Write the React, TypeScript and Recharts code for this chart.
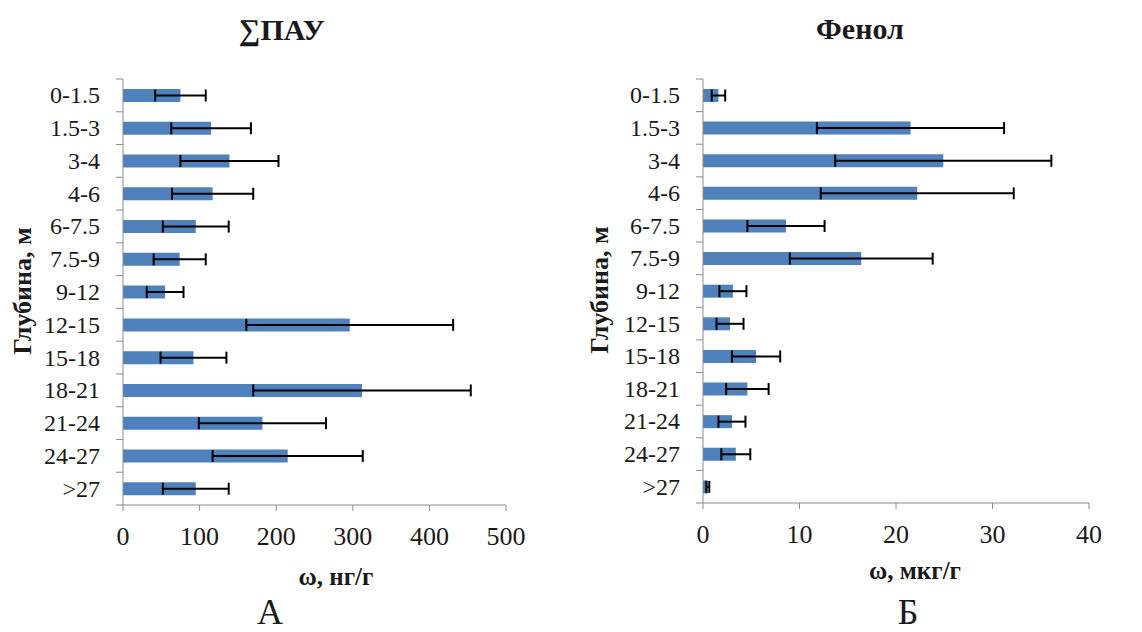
import { BarChart, Bar, XAxis, YAxis, ErrorBar } from 'recharts'

// ---------------------------------------------------------------------------
// Data
// ---------------------------------------------------------------------------
const depths = ['0-1.5', '1.5-3', '3-4', '4-6', '6-7.5', '7.5-9', '9-12', '12-15', '15-18', '18-21', '21-24', '24-27', '>27']

const pahMean = [75, 115, 139, 117, 95, 74, 55, 296, 92, 312, 182, 215, 95]
const pahErr = [33, 52, 64, 53, 43, 34, 24, 135, 43, 142, 83, 98, 43]
const pahTicks = [0, 100, 200, 300, 400, 500]

const phenolMean = [1.6, 21.5, 24.9, 22.2, 8.6, 16.4, 3.1, 2.8, 5.5, 4.6, 3.0, 3.4, 0.5]
const phenolErr = [0.7, 9.7, 11.2, 10.0, 4.0, 7.4, 1.4, 1.4, 2.5, 2.2, 1.4, 1.5, 0.15]
const phenolTicks = [0, 10, 20, 30, 40]

const FONT = '"Liberation Serif", "Times New Roman", serif'
const BAR = '#4F81BD'
const AXIS = '#8c8c8c'
const INK = '#1a1a1a'

// ---------------------------------------------------------------------------
// Category tick: label + Excel-style marks between categories
// ---------------------------------------------------------------------------
function DepthTick(props: any) {
  const { x, y, payload, index, band, gap } = props
  const axisX = x + gap
  return (
    <g>
      <text x={x} y={y} dy={8} textAnchor="end" style={{ fontSize: 24, fill: INK, fontFamily: FONT }}>
        {payload.value}
      </text>
      <line x1={axisX - 7} x2={axisX} y1={y - band / 2} y2={y - band / 2} stroke={AXIS} />
      {index === depths.length - 1 && (
        <line x1={axisX - 7} x2={axisX} y1={y + band / 2} y2={y + band / 2} stroke={AXIS} />
      )}
    </g>
  )
}

function Panel({
  mean,
  err,
  ticks,
  max,
  width,
  right,
  bottom,
}: {
  mean: number[]
  err: number[]
  ticks: number[]
  max: number
  width: number
  right: number
  bottom: number
}) {
  const data = depths.map((d, i) => ({ depth: d, value: mean[i], err: err[i] }))
  const height = 632
  const top = 79
  const axisH = 60
  const plotH = height - top - bottom - axisH
  const band = plotH / depths.length
  const gap = 23

  return (
    <BarChart
      width={width}
      height={height}
      data={data}
      layout="vertical"
      margin={{ top, right, bottom, left: 0 }}
      barSize={13}
    >
      <XAxis
        type="number"
        domain={[0, max]}
        ticks={ticks}
        stroke={AXIS}
        tickSize={6}
        tickMargin={16}
        tick={{ fill: INK, fontSize: 26, fontFamily: FONT }}
        height={axisH}
      />
      <YAxis
        type="category"
        dataKey="depth"
        width={123}
        stroke={AXIS}
        tickLine={false}
        tickSize={0}
        tickMargin={gap}
        interval={0}
        tick={<DepthTick band={band} gap={gap} />}
      />
      <Bar dataKey="value" fill={BAR} isAnimationActive={false}>
        <ErrorBar dataKey="err" direction="x" width={6} stroke="#000" strokeWidth={2} />
      </Bar>
    </BarChart>
  )
}

function Caption({
  x,
  y,
  size,
  bold,
  rotate,
  children,
}: {
  x: number
  y: number
  size: number
  bold?: boolean
  rotate?: boolean
  children: string
}) {
  return (
    <div
      style={{
        position: 'absolute',
        left: x,
        top: y,
        transform: `translate(-50%, -50%)${rotate ? ' rotate(-90deg)' : ''}`,
        fontFamily: FONT,
        fontSize: size,
        fontWeight: bold ? 'bold' : 'normal',
        color: INK,
        whiteSpace: 'nowrap',
        lineHeight: 1,
      }}
    >
      {children}
    </div>
  )
}

export default function App() {
  return (
    <div style={{ position: 'absolute', left: 0, top: 0, width: 1142, height: 632, background: '#fff', fontFamily: FONT }}>
      <div style={{ position: 'absolute', left: 0, top: 0 }}>
        <Panel mean={pahMean} err={pahErr} ticks={pahTicks} max={500} width={560} right={54} bottom={67} />
      </div>
      <div style={{ position: 'absolute', left: 580, top: 0 }}>
        <Panel mean={phenolMean} err={phenolErr} ticks={phenolTicks} max={40} width={562} right={53} bottom={69} />
      </div>

      <Caption x={282} y={30} size={30} bold>∑ПАУ</Caption>
      <Caption x={860} y={29} size={30} bold>Фенол</Caption>

      <Caption x={23} y={291} size={26} bold rotate>Глубина, м</Caption>
      <Caption x={600} y={290} size={26} bold rotate>Глубина, м</Caption>

      <Caption x={336} y={576} size={25} bold>ω, нг/г</Caption>
      <Caption x={915} y={570} size={25} bold>ω, мкг/г</Caption>

      <Caption x={270} y={612} size={36}>А</Caption>
      <Caption x={908} y={612} size={36}>Б</Caption>
    </div>
  )
}
